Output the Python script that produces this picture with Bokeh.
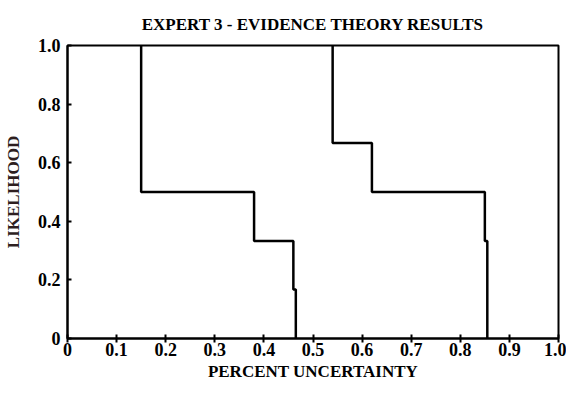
from bokeh.plotting import figure
from bokeh.models import Range1d, FixedTicker
from bokeh.embed import file_html
from bokeh.resources import INLINE

# ---- data ----
title_text = "EXPERT 3 - EVIDENCE THEORY RESULTS"
x_label = "PERCENT UNCERTAINTY"
y_label = "LIKELIHOOD"

x_ticks = [0.0, 0.1, 0.2, 0.3, 0.4, 0.5, 0.6, 0.7, 0.8, 0.9, 1.0]
x_tick_labels = ["0", "0.1", "0.2", "0.3", "0.4", "0.5", "0.6", "0.7", "0.8", "0.9", "1.0"]
y_ticks = [0.0, 0.2, 0.4, 0.6, 0.8, 1.0]
y_tick_labels = ["0", "0.2", "0.4", "0.6", "0.8", "1.0"]

# step curves: jump positions (x) and likelihood levels (y)
left_steps_x = [0.15, 0.38, 0.46, 0.465]
left_levels = [1.0, 0.5, 0.333, 0.167, 0.0]
right_steps_x = [0.54, 0.62, 0.85, 0.855]
right_levels = [1.0, 0.667, 0.5, 0.333, 0.0]


def step_path(xs, levels):
    px, py = [], []
    for i, x in enumerate(xs):
        px += [x, x]
        py += [levels[i], levels[i + 1]]
    return px, py


SERIF = "Liberation Serif"

p = figure(width=566, height=384, output_backend="svg", toolbar_location=None,
           x_range=Range1d(0, 1), y_range=Range1d(0, 1),
           min_border_left=66, min_border_right=8, min_border_top=45, min_border_bottom=46,
           title=title_text)

p.title.align = "center"
p.title.text_font = SERIF
p.title.text_font_size = "17px"
p.title.text_font_style = "bold"
p.title.text_color = "black"
p.title.standoff = 24

p.grid.visible = False
p.background_fill_color = "white"
p.border_fill_color = "white"
p.outline_line_color = "black"
p.outline_line_width = 2
p.outline_line_alpha = 1.0

for ax in (p.xaxis[0], p.yaxis[0]):
    ax.axis_line_width = 2
    ax.axis_line_color = "black"
    ax.major_tick_line_width = 2
    ax.major_tick_line_color = "black"
    ax.minor_tick_line_color = None
    ax.major_label_text_font = SERIF
    ax.major_label_text_font_size = "18px"
    ax.major_label_text_font_style = "bold"
    ax.major_label_text_color = "black"
    ax.axis_label_text_font = SERIF
    ax.axis_label_text_font_size = "17px"
    ax.axis_label_text_font_style = "bold"

xa = p.xaxis[0]
xa.ticker = FixedTicker(ticks=x_ticks)
xa.major_label_overrides = {t: l for t, l in zip(x_ticks, x_tick_labels)}
xa.major_tick_in = 4
xa.major_tick_out = 4
xa.major_label_standoff = 0
xa.axis_label = x_label
xa.axis_label_standoff = 3
xa.axis_label_text_color = "black"

ya = p.yaxis[0]
ya.ticker = FixedTicker(ticks=y_ticks)
ya.major_label_overrides = {t: l for t, l in zip(y_ticks, y_tick_labels)}
ya.major_tick_in = 4
ya.major_tick_out = 0
ya.major_label_standoff = 7
ya.axis_label = y_label
ya.axis_label_standoff = 12
ya.axis_label_text_color = "#2e1f1f"

lx, ly = step_path(left_steps_x, left_levels)
rx, ry = step_path(right_steps_x, right_levels)
p.line(lx, ly, line_color="black", line_width=2.5)
p.line(rx, ry, line_color="black", line_width=2.5)

open("out.html", "w").write(file_html(p, INLINE))
